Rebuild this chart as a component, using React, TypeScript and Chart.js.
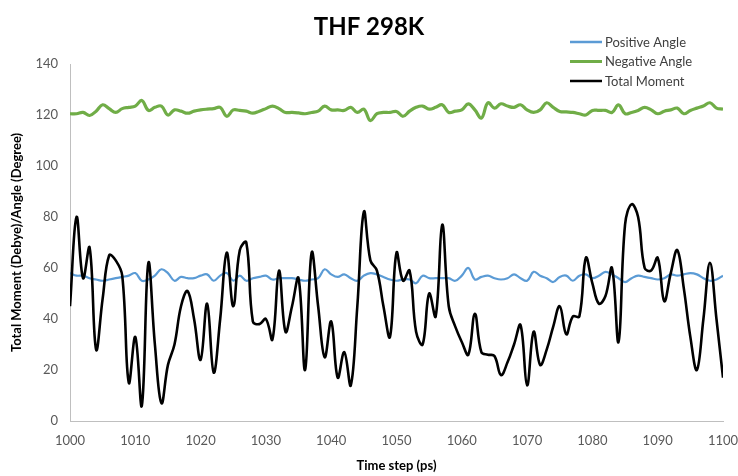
import React, { useEffect, useRef } from "react";
import { Chart, registerables } from "chart.js";
Chart.register(...registerables);

const chartTitle = "THF 298K";
const xAxisTitle = "Time step (ps)";
const yAxisTitle = "Total Moment (Debye)/Angle (Degree)";
const seriesNames = ["Positive Angle", "Negative Angle", "Total Moment"];
const seriesColors = ["#5B9BD5", "#70AD47", "#000000"];

const timeSteps = [
  1000, 1001, 1002, 1003, 1004, 1005, 1006, 1007, 1008, 1009,
  1010, 1011, 1012, 1013, 1014, 1015, 1016, 1017, 1018, 1019,
  1020, 1021, 1022, 1023, 1024, 1025, 1026, 1027, 1028, 1029,
  1030, 1031, 1032, 1033, 1034, 1035, 1036, 1037, 1038, 1039,
  1040, 1041, 1042, 1043, 1044, 1045, 1046, 1047, 1048, 1049,
  1050, 1051, 1052, 1053, 1054, 1055, 1056, 1057, 1058, 1059,
  1060, 1061, 1062, 1063, 1064, 1065, 1066, 1067, 1068, 1069,
  1070, 1071, 1072, 1073, 1074, 1075, 1076, 1077, 1078, 1079,
  1080, 1081, 1082, 1083, 1084, 1085, 1086, 1087, 1088, 1089,
  1090, 1091, 1092, 1093, 1094, 1095, 1096, 1097, 1098, 1099,
  1100,
];

const xTickLabels = [1000, 1010, 1020, 1030, 1040, 1050, 1060, 1070, 1080, 1090, 1100];
const yTickLabels = [0, 20, 40, 60, 80, 100, 120, 140];

const positiveAngle = [
  58, 57, 57, 56, 55.5, 55, 55.5, 56, 56.5, 57,
  58, 55, 55.5, 57, 59.5, 58, 55, 56.5, 56, 56,
  57, 57.5, 55, 57, 58, 55, 57, 55, 56, 56.5,
  57, 55.5, 56, 56, 56, 55.5, 55, 55.5, 56, 59.5,
  57.5, 56.5, 57.5, 56, 55, 57, 58, 57.5, 56.5, 55.5,
  55, 55.5, 55.5, 54, 57, 56, 56, 56, 56, 55,
  57, 60, 55.5, 56.5, 57, 56, 55.5, 56, 57.5, 56,
  55, 58.5, 57, 56, 54.5, 56.5, 57, 55, 57, 57.5,
  56, 57, 58.5, 57.5, 56, 54.5, 56, 57, 56.5, 56,
  55.5, 56, 57.5, 57, 57.5, 58, 57.5, 56, 55, 55.5,
  57,
];

const negativeAngle = [
  120.5, 120.5, 121, 119.8, 121.5, 124, 122.5, 121, 122.5, 123,
  123.5, 125.7, 121.8, 123, 123.5, 120, 122, 121.5, 120.7, 121.5,
  122, 122.3, 122.5, 123, 119.5, 122, 121.8, 121.5, 120.7, 121.5,
  122.5, 123.5, 122.5, 121, 121, 120.8, 120.5, 121, 121.5, 123.5,
  122, 122, 121.8, 123, 121, 122.3, 117.8, 120.5, 121, 121,
  121.4, 119.5, 121.5, 123, 123.5, 122.3, 123, 124, 121, 121.5,
  122, 124.4, 122, 118.8, 124.8, 122.7, 124.4, 123.5, 123, 124,
  122, 121, 122, 124.8, 123, 121.4, 121.2, 121, 120.5, 120,
  121.8, 121.8, 121.8, 121, 124, 120.5, 121, 121.8, 123, 122,
  120.5, 121.5, 122, 122.7, 120.5, 121.8, 122.7, 123.5, 124.8, 122.7,
  122.3,
];

const totalMoment = [
  45, 80, 56, 68, 28, 48, 65, 63, 57, 15,
  33, 6, 62, 30, 7, 22, 30, 45, 51, 40,
  24, 46, 19, 40, 66, 45, 67, 70, 39, 38,
  40, 32, 59, 35, 45, 56, 20, 66, 45, 25,
  39, 17, 27, 14, 45, 82, 63, 59, 45, 33,
  66, 55, 59, 35, 30, 50, 41, 77, 45, 37,
  31, 26, 42, 27, 26, 25.5, 18, 23, 30, 37.6,
  14, 35, 22, 28, 37, 45, 34, 41, 41, 64,
  54, 46, 49, 60, 31, 77, 85, 80, 60, 59,
  64, 47, 58, 67, 52, 33, 20, 40, 62, 40,
  17,
];

const FONT = "Lato, 'Liberation Sans', sans-serif";

const overlayPlugin = {
  id: "overlay",
  afterDraw(chart: any) {
    const ctx = chart.ctx;
    ctx.save();
    // title
    ctx.fillStyle = "#000000";
    ctx.font = `bold 24px ${FONT}`;
    ctx.textAlign = "center";
    ctx.textBaseline = "middle";
    ctx.fillText(chartTitle, 369, 27);
    // legend
    const rows = [42, 61.5, 81];
    ctx.font = `13px ${FONT}`;
    ctx.textAlign = "left";
    chart.data.datasets.forEach((ds: any, i: number) => {
      const y = rows[i];
      ctx.strokeStyle = ds.borderColor;
      ctx.lineWidth = i === 1 ? 3 : 2.5;
      ctx.beginPath();
      ctx.moveTo(570, y);
      ctx.lineTo(602, y);
      ctx.stroke();
      ctx.fillStyle = "#404040";
      ctx.fillText(ds.label, 605, y + 0.5);
    });
    ctx.restore();
  },
};

export default function App() {
  const canvasRef = useRef<HTMLCanvasElement | null>(null);

  useEffect(() => {
    const canvas = canvasRef.current;
    if (!canvas) return;
    const seriesValues = [positiveAngle, negativeAngle, totalMoment];
    const widths = [2.2, 3.2, 2.6];
    const orders = [2, 1, 0];
    const chart = new Chart(canvas, {
      type: "line",
      data: {
        datasets: seriesValues.map((vals, i) => ({
          label: seriesNames[i],
          data: timeSteps.map((t, j) => ({ x: t, y: vals[j] })),
          borderColor: seriesColors[i],
          backgroundColor: seriesColors[i],
          borderWidth: widths[i],
          pointRadius: 0,
          tension: 0.4,
          fill: false,
          order: orders[i],
        })),
      },
      options: {
        animation: false,
        responsive: false,
        devicePixelRatio: 1,
        layout: { padding: { top: 64, right: 15, left: 0, bottom: 0 } },
        plugins: {
          legend: { display: false },
          title: { display: false },
          tooltip: { enabled: false },
        },
        scales: {
          x: {
            type: "linear",
            min: xTickLabels[0],
            max: xTickLabels[xTickLabels.length - 1],
            afterBuildTicks: (s: any) => {
              s.ticks = xTickLabels.map((v) => ({ value: v }));
            },
            ticks: {
              color: "#595959",
              font: { family: FONT, size: 13 },
              padding: 12,
              maxRotation: 0,
              autoSkip: false,
              callback: (v: any) => String(v),
            },
            grid: { display: false, drawTicks: false },
            border: { color: "#bfbfbf", width: 1 },
            title: {
              display: true,
              text: xAxisTitle,
              color: "#000000",
              font: { family: FONT, size: 13, weight: "bold" },
              padding: { top: 0, bottom: 2 },
            },
            afterFit: (s: any) => {
              s.height = 55;
              s.paddingLeft = 0;
              s.paddingRight = 0;
            },
          },
          y: {
            min: yTickLabels[0],
            max: yTickLabels[yTickLabels.length - 1],
            afterBuildTicks: (s: any) => {
              s.ticks = yTickLabels.map((v) => ({ value: v }));
            },
            ticks: {
              color: "#595959",
              font: { family: FONT, size: 13 },
              padding: 12,
              callback: (v: any) => String(v),
            },
            grid: { display: false, drawTicks: false },
            border: { color: "#bfbfbf", width: 1 },
            title: {
              display: true,
              text: yAxisTitle,
              color: "#000000",
              font: { family: FONT, size: 13, weight: "bold" },
              padding: { top: 9, bottom: 0 },
            },
            afterFit: (s: any) => {
              s.width = 70;
              s.paddingTop = 0;
              s.paddingBottom = 0;
            },
          },
        },
      },
      plugins: [overlayPlugin],
    } as any);
    return () => chart.destroy();
  }, []);

  return (
    <div style={{ position: "absolute", left: 0, top: 0, width: 738, height: 476, background: "#ffffff" }}>
      <canvas ref={canvasRef} width={738} height={476} style={{ width: 738, height: 476, display: "block" }} />
    </div>
  );
}
